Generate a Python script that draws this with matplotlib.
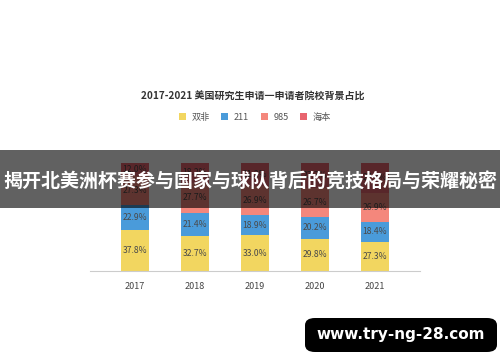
import numpy as np
import matplotlib
matplotlib.use('Agg')
import matplotlib.pyplot as plt
from matplotlib.patches import Rectangle, FancyBboxPatch

plt.rcParams['font.family'] = ['Noto Sans CJK SC', 'DejaVu Sans']

# ── data ──
years = ['2017', '2018', '2019', '2020', '2021']
shuangfei = [37.8, 32.7, 33.0, 29.8, 27.3]
v211 = [22.9, 21.4, 18.9, 20.2, 18.4]
v985 = [27.3, 27.7, 26.9, 26.7, 26.9]
haiben = [12.0, 18.2, 21.2, 23.3, 27.4]
series_names = ['双非', '211', '985', '海本']
colors = ['#F2D660', '#4A9BDA', '#F4877C', '#E8646E']

title = '2017-2021 美国研究生申请一申请者院校背景占比'
banner = '揭开北美洲杯赛参与国家与球队背后的竞技格局与荣耀秘密'
url = 'www.try-ng-28.com'

fig = plt.figure(figsize=(5, 3.62), dpi=100)
fig.patch.set_facecolor('white')

ax = fig.add_axes([0.18, 0.2514, 0.66, 0.2983])
x = np.arange(len(years))
bottom = np.zeros(len(years))
for name, vals, c in zip(series_names, [shuangfei, v211, v985, haiben], colors):
    vals = np.array(vals)
    ax.bar(x, vals, width=0.48, bottom=bottom, color=c, label=name, zorder=2)
    for xi, b, v in zip(x, bottom, vals):
        ax.text(xi, b + v / 2, f'{v:.1f}%', ha='center', va='center',
                fontsize=6.2, color='#4a4a4a', zorder=3)
    bottom += vals

ax.set_xlim(-0.75, 4.75)
ax.set_ylim(0, 100)
ax.set_yticks([])
ax.set_xticks(x)
ax.set_xticklabels(years, fontsize=6.5, color='#444444')
ax.tick_params(axis='x', length=0, pad=8)
for s in ['top', 'right', 'left']:
    ax.spines[s].set_visible(False)
ax.spines['bottom'].set_color('#cccccc')
ax.spines['bottom'].set_linewidth(0.8)
ax.patch.set_alpha(0)

# title and legend
fig.text(0.506, 1 - 97 / 362, title, ha='center', va='center',
         fontsize=7.2, fontweight='bold', color='#333333')
fig.legend(loc='center', bbox_to_anchor=(0.51, 1 - 117 / 362), ncol=4,
           frameon=False, fontsize=6.6, handlelength=0.75, handleheight=0.75,
           handletextpad=0.6, columnspacing=1.3, labelcolor='#555555')

# overlay banner
fig.patches.append(Rectangle((0, 1 - 208 / 362), 1, 58 / 362,
                             transform=fig.transFigure, facecolor='black',
                             alpha=0.62, edgecolor='none', zorder=5))
fig.text(0.5, 1 - 182 / 362, banner, ha='center', va='center', color='white',
         fontsize=13.7, fontweight='bold', zorder=6)

# url box
fig.patches.append(FancyBboxPatch((305 / 500, 1 - 352 / 362), 192 / 500, 34 / 362,
                                  boxstyle='round,pad=0,rounding_size=0.02',
                                  transform=fig.transFigure, facecolor='black',
                                  edgecolor='none', zorder=5))
fig.text(401 / 500, 1 - 335 / 362, url, ha='center', va='center', color='white',
         fontsize=11, fontweight='bold', family='DejaVu Sans', zorder=6)

fig.savefig('out.png', dpi=100)
